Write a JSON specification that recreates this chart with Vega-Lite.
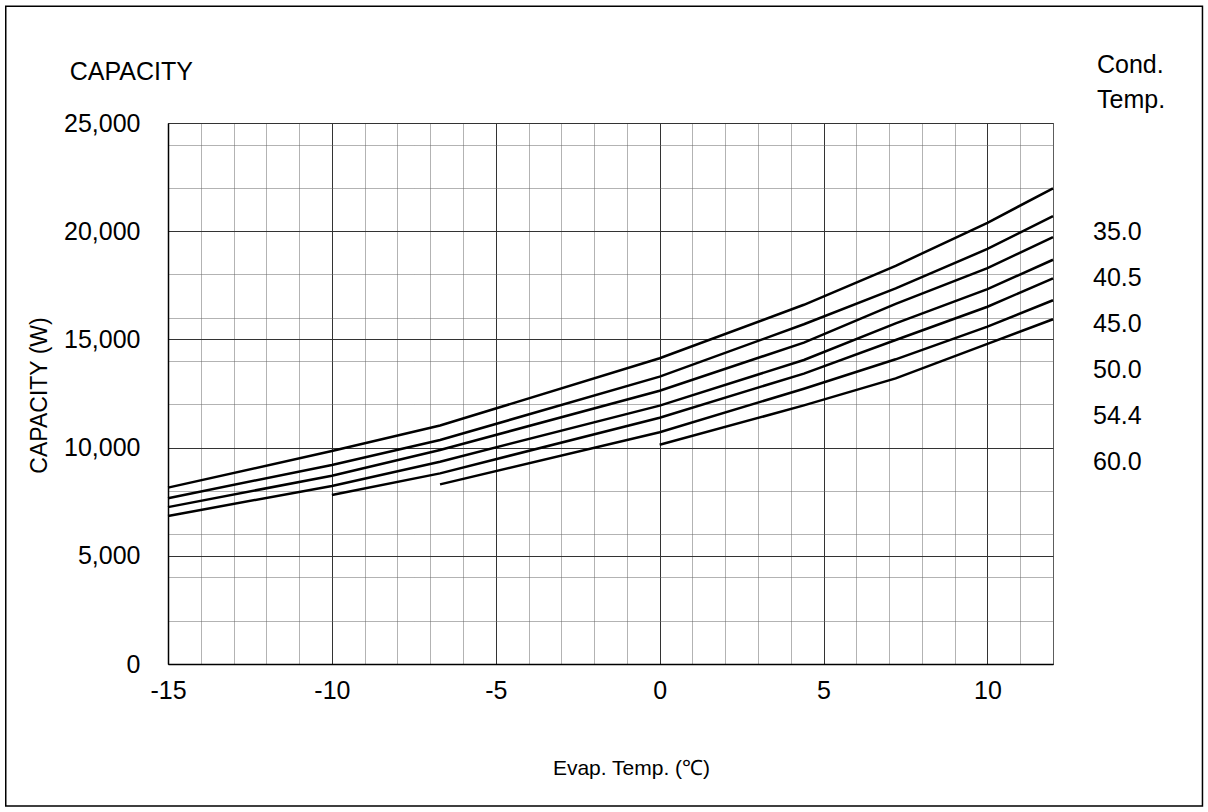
{
  "$schema": "https://vega.github.io/schema/vega-lite/v6.json",
  "width": 885,
  "height": 541,
  "autosize": {"type": "none"},
  "padding": {"left": 168, "top": 123, "right": 155, "bottom": 148},
  "background": "white",
  "config": {
    "font": "Liberation Sans",
    "view": {"stroke": "#555", "strokeWidth": 1}
  },
  "resolve": {"axis": {"x": "independent", "y": "independent"}},
  "layer": [
    {
      "data": {
        "values": [
          {"t": -15, "cap": 8150, "cond": "unlabelled"},
          {"t": -10, "cap": 9840, "cond": "unlabelled"},
          {"t": -6.7, "cap": 11020, "cond": "unlabelled"},
          {"t": 0, "cap": 14130, "cond": "unlabelled"},
          {"t": 4.4, "cap": 16600, "cond": "unlabelled"},
          {"t": 7.2, "cap": 18400, "cond": "unlabelled"},
          {"t": 10, "cap": 20390, "cond": "unlabelled"},
          {"t": 12, "cap": 21980, "cond": "unlabelled"},
          {"t": -15, "cap": 7660, "cond": "35.0"},
          {"t": -10, "cap": 9200, "cond": "35.0"},
          {"t": -6.7, "cap": 10350, "cond": "35.0"},
          {"t": 0, "cap": 13280, "cond": "35.0"},
          {"t": 4.4, "cap": 15700, "cond": "35.0"},
          {"t": 7.2, "cap": 17360, "cond": "35.0"},
          {"t": 10, "cap": 19180, "cond": "35.0"},
          {"t": 12, "cap": 20700, "cond": "35.0"},
          {"t": -15, "cap": 7250, "cond": "40.5"},
          {"t": -10, "cap": 8700, "cond": "40.5"},
          {"t": -6.7, "cap": 9890, "cond": "40.5"},
          {"t": 0, "cap": 12630, "cond": "40.5"},
          {"t": 4.4, "cap": 14850, "cond": "40.5"},
          {"t": 7.2, "cap": 16640, "cond": "40.5"},
          {"t": 10, "cap": 18290, "cond": "40.5"},
          {"t": 12, "cap": 19730, "cond": "40.5"},
          {"t": -15, "cap": 6840, "cond": "45.0"},
          {"t": -10, "cap": 8230, "cond": "45.0"},
          {"t": -6.7, "cap": 9350, "cond": "45.0"},
          {"t": 0, "cap": 11940, "cond": "45.0"},
          {"t": 4.4, "cap": 14050, "cond": "45.0"},
          {"t": 7.2, "cap": 15740, "cond": "45.0"},
          {"t": 10, "cap": 17320, "cond": "45.0"},
          {"t": 12, "cap": 18680, "cond": "45.0"},
          {"t": -10, "cap": 7810, "cond": "50.0"},
          {"t": -6.7, "cap": 8810, "cond": "50.0"},
          {"t": 0, "cap": 11380, "cond": "50.0"},
          {"t": 4.4, "cap": 13420, "cond": "50.0"},
          {"t": 7.2, "cap": 14970, "cond": "50.0"},
          {"t": 10, "cap": 16510, "cond": "50.0"},
          {"t": 12, "cap": 17820, "cond": "50.0"},
          {"t": -6.7, "cap": 8300, "cond": "54.4"},
          {"t": 0, "cap": 10710, "cond": "54.4"},
          {"t": 4.4, "cap": 12720, "cond": "54.4"},
          {"t": 7.2, "cap": 14080, "cond": "54.4"},
          {"t": 10, "cap": 15590, "cond": "54.4"},
          {"t": 12, "cap": 16810, "cond": "54.4"},
          {"t": 0, "cap": 10130, "cond": "60.0"},
          {"t": 4.4, "cap": 11950, "cond": "60.0"},
          {"t": 7.2, "cap": 13200, "cond": "60.0"},
          {"t": 10, "cap": 14790, "cond": "60.0"},
          {"t": 12, "cap": 15930, "cond": "60.0"}
        ]
      },
      "mark": {"type": "line", "strokeWidth": 2.5, "interpolate": "linear"},
      "encoding": {
        "x": {
          "field": "t",
          "type": "quantitative",
          "scale": {"domain": [-15, 12], "nice": false, "zero": false},
          "axis": {
            "orient": "bottom",
            "values": [-15, -14, -13, -12, -11, -10, -9, -8, -7, -6, -5, -4, -3, -2, -1, 0, 1, 2, 3, 4, 5, 6, 7, 8, 9, 10, 11, 12],
            "labelExpr": "datum.value % 5 === 0 ? '' + datum.value : ''",
            "labelFontSize": 25,
            "labelColor": "black",
            "labelPadding": 14,
            "labelFlush": false,
            "labelOverlap": false,
            "ticks": false,
            "domainColor": "black",
            "domainWidth": 1.5,
            "grid": true,
            "gridColor": {"condition": {"test": "datum.value % 5 === 0", "value": "#333"}, "value": "#666"},
            "gridDash": {"condition": {"test": "datum.value % 5 === 0", "value": []}, "value": [1, 1]},
            "gridWidth": 1,
            "gridOpacity": 1,
            "title": "Evap. Temp. (℃)",
            "titleFontSize": 21,
            "titleFontWeight": "normal",
            "titleColor": "black",
            "titleX": 463,
            "titleY": 93,
            "titleBaseline": "top"
          }
        },
        "y": {
          "field": "cap",
          "type": "quantitative",
          "scale": {"domain": [0, 25000], "nice": false, "zero": true},
          "axis": {
            "orient": "left",
            "values": [0, 2000, 4000, 5000, 6000, 8000, 10000, 12000, 14000, 15000, 16000, 18000, 20000, 22000, 24000, 25000],
            "labelExpr": "datum.value % 5000 === 0 ? format(datum.value, ',') : ''",
            "labelFontSize": 25,
            "labelColor": "black",
            "labelPadding": 28,
            "labelFlush": false,
            "labelOverlap": false,
            "ticks": false,
            "domainColor": "black",
            "domainWidth": 1.5,
            "grid": true,
            "gridColor": {"condition": {"test": "datum.value % 5000 === 0", "value": "#333"}, "value": "#666"},
            "gridDash": {"condition": {"test": "datum.value % 5000 === 0", "value": []}, "value": [1, 1]},
            "gridWidth": 1,
            "gridOpacity": 1,
            "title": "CAPACITY (W)",
            "titleFontSize": 23,
            "titleFontWeight": "normal",
            "titleColor": "black",
            "titleX": -117,
            "titleY": 272,
            "titleAngle": -90,
            "titleBaseline": "bottom",
            "titleAlign": "center"
          }
        },
        "color": {
          "field": "cond",
          "type": "nominal",
          "scale": {
            "domain": ["unlabelled", "35.0", "40.5", "45.0", "50.0", "54.4", "60.0"],
            "range": ["black", "black", "black", "black", "black", "black", "black"]
          },
          "legend": {
            "orient": "none",
            "legendX": 929,
            "legendY": -70,
            "title": ["Cond.", "Temp."],
            "values": ["35.0", "40.5", "45.0", "50.0", "54.4", "60.0"],
            "titleFontSize": 25,
            "titleFontWeight": "normal",
            "titleColor": "black",
            "titleLineHeight": 35,
            "titlePadding": 106,
            "labelFontSize": 25,
            "labelColor": "black",
            "labelOffset": -29,
            "symbolSize": 0,
            "symbolOpacity": 0,
            "symbolStrokeWidth": 0,
            "rowPadding": 20,
            "padding": 0
          }
        }
      }
    },
    {
      "data": {"values": [{}]},
      "mark": {"type": "rect", "filled": false, "stroke": "black", "strokeWidth": 1.5, "clip": false},
      "encoding": {
        "x": {"datum": -19.95, "type": "quantitative", "axis": null},
        "x2": {"datum": 16.56},
        "y": {"datum": 30400, "type": "quantitative", "axis": null},
        "y2": {"datum": -6560}
      }
    },
    {
      "data": {"values": [{}]},
      "mark": {"type": "text", "text": "CAPACITY", "align": "left", "baseline": "middle", "fontSize": 25, "fill": "black", "font": "Liberation Sans", "clip": false},
      "encoding": {
        "x": {"datum": -18.0, "type": "quantitative", "axis": null},
        "y": {"datum": 27360, "type": "quantitative", "axis": null}
      }
    }
  ]
}
